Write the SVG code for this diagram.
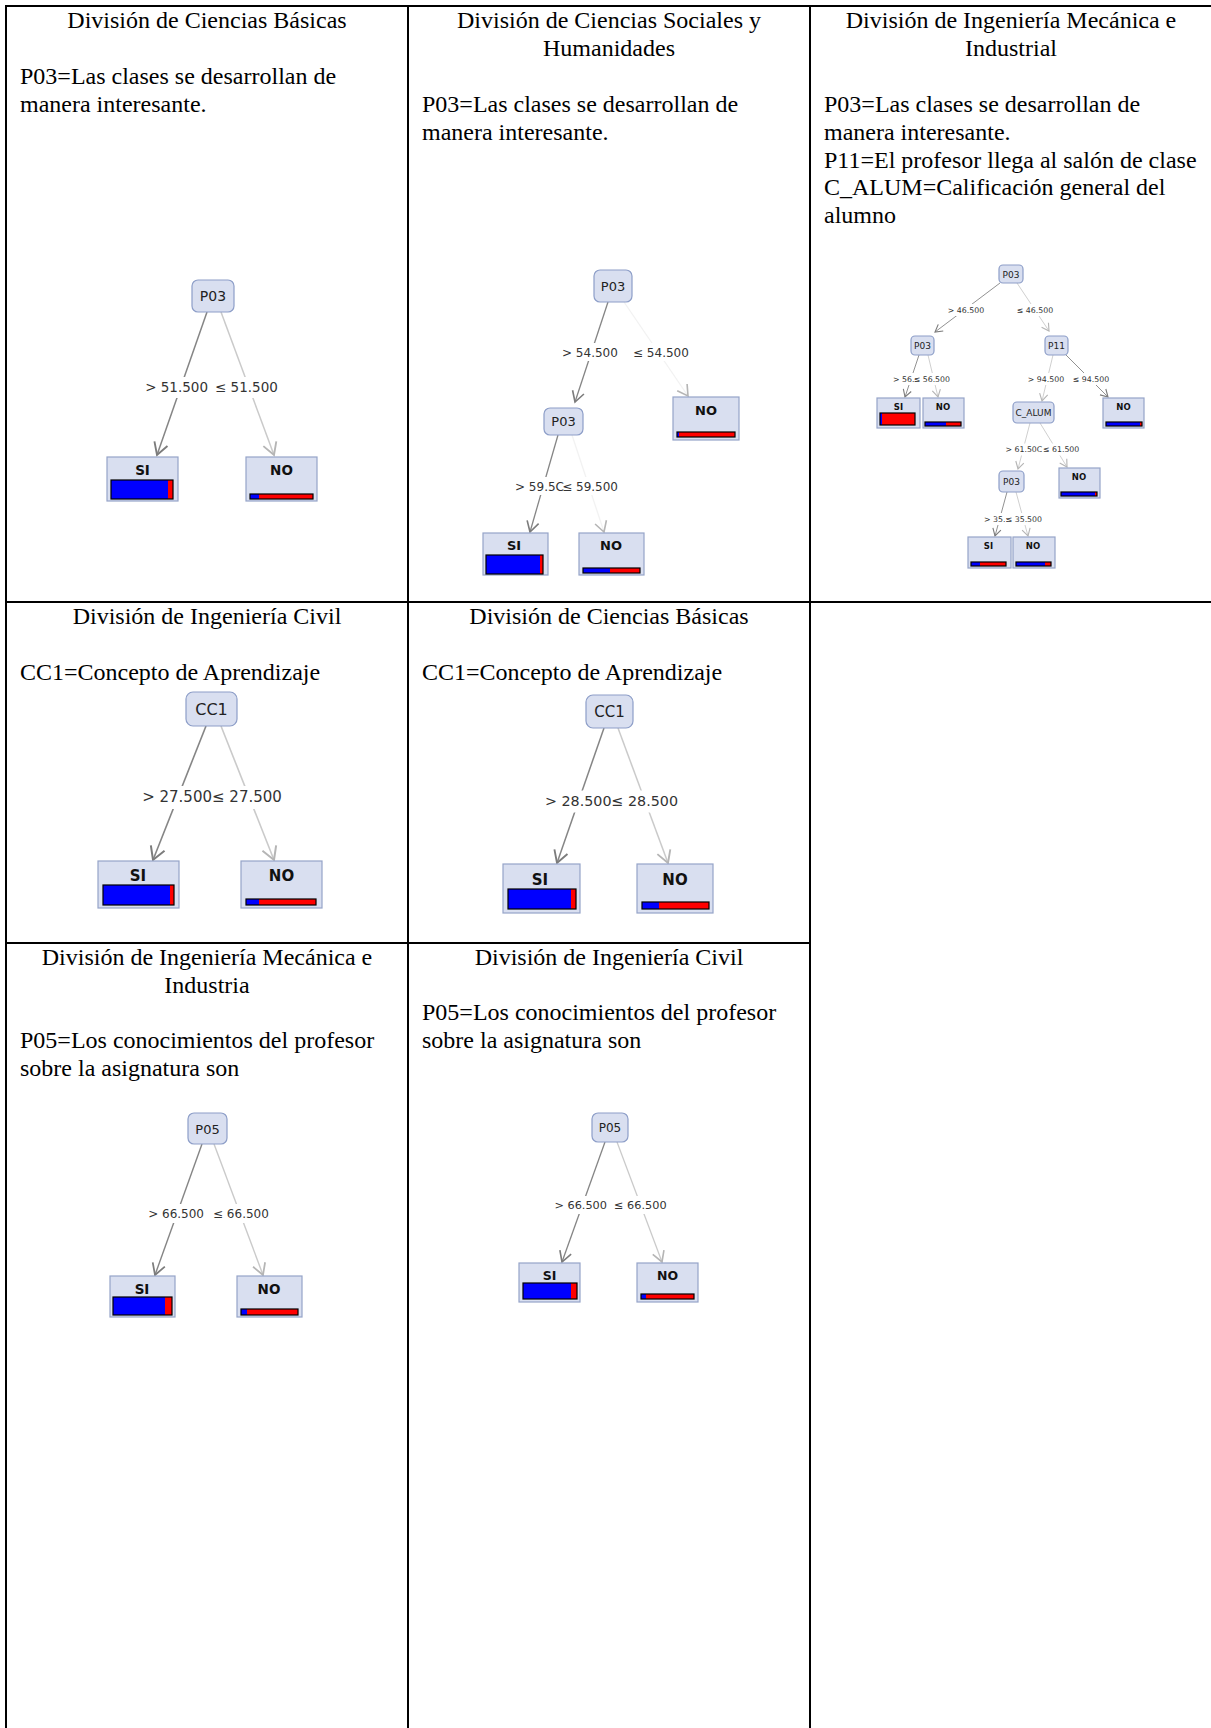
<svg xmlns="http://www.w3.org/2000/svg" width="1211" height="1728" viewBox="0 0 1211 1728">
  <style>
    .grid { stroke: #000; stroke-width: 2; fill: none; }
    .tt { font-family: "Liberation Serif", "Times New Roman", serif; font-size: 24px; fill: #000; }
    .mid { text-anchor: middle; }
    .inn { fill: #d9dff0; stroke: #8d9ec8; stroke-width: 1.2; }
    .leaf { fill: #d9dff0; stroke: #95a4c8; stroke-width: 1.2; }
    .nl { font-family: "DejaVu Sans", Verdana, sans-serif; fill: #222; text-anchor: middle; }
    .ll { font-family: "DejaVu Sans", Verdana, sans-serif; font-weight: bold; fill: #111; text-anchor: middle; }
    .b { fill: #0000ff; }
    .r { fill: #ff0000; }
    .fr { fill: none; stroke: #000; stroke-width: 1.2; }
    .ed { stroke: #858585; fill: none; marker-end: url(#ahD); }
    .el { stroke: #cacaca; fill: none; marker-end: url(#ahL); }
    .ef { stroke: #f2f2f2; fill: none; marker-end: url(#ahL); }
    .lbg { fill: #fff; }
    .lb { font-family: "DejaVu Sans", Verdana, sans-serif; fill: #333; }
    .end { text-anchor: end; }
  </style>
  <defs>
    <!-- open chevron arrowheads, sized in stroke widths -->
    <marker id="ahD" markerUnits="strokeWidth" orient="auto" overflow="visible" refX="0" refY="0" markerWidth="1" markerHeight="1">
      <path d="M-8,-4.6 L0,0 L-8,4.6" fill="none" stroke="#7c7c7c" stroke-width="1.25" stroke-linejoin="miter"/>
    </marker>
    <marker id="ahL" markerUnits="strokeWidth" orient="auto" overflow="visible" refX="0" refY="0" markerWidth="1" markerHeight="1">
      <path d="M-8,-4.6 L0,0 L-8,4.6" fill="none" stroke="#b5b5b5" stroke-width="1.25" stroke-linejoin="miter"/>
    </marker>
  </defs>

  <rect x="0" y="0" width="1211" height="1728" fill="#fff"/>

  <!-- table rules -->
  <g id="table">
    <line class="grid" x1="5" y1="6" x2="1211" y2="6"/>
    <line class="grid" x1="6" y1="5" x2="6" y2="1728"/>
    <line class="grid" x1="408" y1="5" x2="408" y2="1728"/>
    <line class="grid" x1="810" y1="5" x2="810" y2="1728"/>
    <line class="grid" x1="5" y1="602" x2="1211" y2="602"/>
    <line class="grid" x1="5" y1="943" x2="811" y2="943"/>
  </g>

  <!-- cell captions -->
  <g id="captions" class="tt">
    <text class="mid" x="207" y="28">División de Ciencias Básicas</text>
    <text x="20" y="84">P03=Las clases se desarrollan de</text>
    <text x="20" y="112">manera interesante.</text>

    <text class="mid" x="609" y="28">División de Ciencias Sociales y</text>
    <text class="mid" x="609" y="56">Humanidades</text>
    <text x="422" y="112">P03=Las clases se desarrollan de</text>
    <text x="422" y="140">manera interesante.</text>

    <text class="mid" x="1011" y="28">División de Ingeniería Mecánica e</text>
    <text class="mid" x="1011" y="56">Industrial</text>
    <text x="824" y="112">P03=Las clases se desarrollan de</text>
    <text x="824" y="140">manera interesante.</text>
    <text x="824" y="167.5">P11=El profesor llega al salón de clase</text>
    <text x="824" y="195">C_ALUM=Calificación general del</text>
    <text x="824" y="222.5">alumno</text>

    <text class="mid" x="207" y="624">División de Ingeniería Civil</text>
    <text x="20" y="679.5">CC1=Concepto de Aprendizaje</text>
    <text class="mid" x="609" y="624">División de Ciencias Básicas</text>
    <text x="422" y="679.5">CC1=Concepto de Aprendizaje</text>

    <text class="mid" x="207" y="965">División de Ingeniería Mecánica e</text>
    <text class="mid" x="207" y="992.5">Industria</text>
    <text x="20" y="1048">P05=Los conocimientos del profesor</text>
    <text x="20" y="1075.5">sobre la asignatura son</text>
    <text class="mid" x="609" y="965">División de Ingeniería Civil</text>
    <text x="422" y="1020">P05=Los conocimientos del profesor</text>
    <text x="422" y="1047.5">sobre la asignatura son</text>
  </g>

  <!-- connectors with their split labels (labels sit on white plates) -->
  <g id="connectors">
    <!-- tree 1 -->
    <path class="ed" stroke-width="1.5" d="M207,312 L157,455"/>
    <path class="el" stroke-width="1.5" d="M221,312 L274,455"/>
    <rect class="lbg" x="144" y="377" width="136" height="21"/>
    <g font-size="13.5">
      <text class="lb end" x="208" y="392">&gt; 51.500</text>
      <text class="lb" x="215" y="392">≤ 51.500</text>
    </g>
    <!-- tree 2 -->
    <path class="ed" stroke-width="1.3" d="M608,302 L575,402"/>
    <path class="ef" stroke-width="1.3" d="M624,302 L688,396"/>
    <path class="ed" stroke-width="1.3" d="M558,435 L530,532"/>
    <path class="ef" stroke-width="1.3" d="M572,435 L604,532"/>
    <rect class="lbg" x="561" y="343" width="129" height="18"/>
    <rect class="lbg" x="514" y="477" width="105" height="18"/>
    <g font-size="12">
      <text class="lb" x="562" y="356.5">&gt; 54.500</text>
      <text class="lb" x="633" y="356.5">≤ 54.500</text>
      <text class="lb" x="515" y="490.5">&gt; 59.5C</text>
      <text class="lb end" x="618" y="490.5">≤ 59.500</text>
    </g>
    <!-- tree 3 -->
    <path class="ed" stroke-width="0.9" d="M1000,283 L935,332"/>
    <path class="el" stroke-width="0.9" d="M1017,283 L1049,331"/>
    <path class="ed" stroke-width="0.9" d="M919,355 L905,397"/>
    <path class="el" stroke-width="0.9" d="M928,355 L938,397"/>
    <path class="el" stroke-width="0.9" d="M1053,355 L1042,401"/>
    <path class="ed" stroke-width="0.9" d="M1066,355 L1108,397"/>
    <path class="el" stroke-width="0.9" d="M1030,423 L1018,469"/>
    <path class="el" stroke-width="0.9" d="M1040,423 L1067,467"/>
    <path class="ed" stroke-width="0.9" d="M1007,492 L995,536"/>
    <path class="el" stroke-width="0.9" d="M1016,492 L1028,536"/>
    <rect class="lbg" x="947" y="304" width="38" height="12"/>
    <rect class="lbg" x="1016" y="304" width="38" height="12"/>
    <rect class="lbg" x="892" y="373" width="59" height="12"/>
    <rect class="lbg" x="1027" y="373" width="83" height="12"/>
    <rect class="lbg" x="1005" y="443.5" width="75" height="12"/>
    <rect class="lbg" x="983" y="513" width="60" height="12"/>
    <g font-size="7.8">
      <text class="lb mid" x="966" y="312.5">&gt; 46.500</text>
      <text class="lb mid" x="1035" y="312.5">≤ 46.500</text>
      <text class="lb" x="893" y="381.5">&gt; 56.:</text>
      <text class="lb end" x="950" y="381.5">≤ 56.500</text>
      <text class="lb mid" x="1046" y="381.5">&gt; 94.500</text>
      <text class="lb mid" x="1091" y="381.5">≤ 94.500</text>
      <text class="lb" x="1005.5" y="452">&gt; 61.50C</text>
      <text class="lb" x="1043" y="452">≤ 61.500</text>
      <text class="lb" x="984" y="521.5">&gt; 35.:</text>
      <text class="lb end" x="1042" y="521.5">≤ 35.500</text>
    </g>
    <!-- tree 4 -->
    <path class="ed" stroke-width="1.6" d="M206,726 L153,860"/>
    <path class="el" stroke-width="1.6" d="M221,726 L274,860"/>
    <rect class="lbg" x="141" y="786" width="142" height="23"/>
    <g font-size="15">
      <text class="lb end" x="212" y="802">&gt; 27.500</text>
      <text class="lb" x="212" y="802">≤ 27.500</text>
    </g>
    <!-- tree 5 -->
    <path class="ed" stroke-width="1.5" d="M604,728 L557,863"/>
    <path class="el" stroke-width="1.5" d="M618,728 L668,863"/>
    <rect class="lbg" x="544" y="790.5" width="135" height="22"/>
    <g font-size="14.3">
      <text class="lb end" x="611.5" y="806">&gt; 28.500</text>
      <text class="lb" x="611.5" y="806">≤ 28.500</text>
    </g>
    <!-- tree 6 -->
    <path class="ed" stroke-width="1.4" d="M202,1144 L155,1275"/>
    <path class="el" stroke-width="1.4" d="M214,1144 L263,1275"/>
    <rect class="lbg" x="147" y="1204" width="123" height="19"/>
    <g font-size="12">
      <text class="lb end" x="204" y="1218">&gt; 66.500</text>
      <text class="lb" x="213" y="1218">≤ 66.500</text>
    </g>
    <!-- tree 7 -->
    <path class="ed" stroke-width="1.3" d="M605,1142 L562,1262"/>
    <path class="el" stroke-width="1.3" d="M617,1142 L662,1262"/>
    <rect class="lbg" x="553" y="1196" width="115" height="18"/>
    <g font-size="11.3">
      <text class="lb end" x="607" y="1209">&gt; 66.500</text>
      <text class="lb" x="614" y="1209">≤ 66.500</text>
    </g>
  </g>

  <!-- tree 1: Ciencias Básicas, P03 -->
  <g id="t1-p03" font-size="14">
    <rect class="inn" x="192" y="280" width="42" height="32" rx="6"/>
    <text class="nl" x="213" y="301">P03</text>
  </g>
  <g id="t1-si" font-size="13.5">
    <rect class="leaf" x="107" y="457" width="71" height="44"/>
    <text class="ll" x="142.5" y="475">SI</text>
    <rect class="b" x="111" y="480" width="57" height="19"/>
    <rect class="r" x="168" y="480" width="5" height="19"/>
    <rect class="fr" x="111" y="480" width="62" height="19"/>
  </g>
  <g id="t1-no" font-size="13.5">
    <rect class="leaf" x="246" y="457" width="71" height="44"/>
    <text class="ll" x="281.5" y="475">NO</text>
    <rect class="b" x="250" y="494" width="9" height="5"/>
    <rect class="r" x="259" y="494" width="54" height="5"/>
    <rect class="fr" x="250" y="494" width="63" height="5"/>
  </g>

  <!-- tree 2: Ciencias Sociales y Humanidades -->
  <g id="t2-p03-root" font-size="13">
    <rect class="inn" x="594" y="270" width="38" height="32" rx="6"/>
    <text class="nl" x="613" y="291">P03</text>
  </g>
  <g id="t2-p03" font-size="13">
    <rect class="inn" x="544" y="408" width="39" height="27" rx="6"/>
    <text class="nl" x="563.5" y="426">P03</text>
  </g>
  <g id="t2-no-a" font-size="13">
    <rect class="leaf" x="673" y="397" width="66" height="43"/>
    <text class="ll" x="706" y="415">NO</text>
    <rect class="b" x="677" y="432" width="2" height="5"/>
    <rect class="r" x="679" y="432" width="56" height="5"/>
    <rect class="fr" x="677" y="432" width="58" height="5"/>
  </g>
  <g id="t2-si" font-size="13">
    <rect class="leaf" x="483" y="533" width="65" height="42"/>
    <text class="ll" x="514" y="550">SI</text>
    <rect class="b" x="486" y="555" width="54" height="19"/>
    <rect class="r" x="540" y="555" width="3" height="19"/>
    <rect class="fr" x="486" y="555" width="57" height="19"/>
  </g>
  <g id="t2-no-b" font-size="13">
    <rect class="leaf" x="579" y="533" width="65" height="42"/>
    <text class="ll" x="611" y="550">NO</text>
    <rect class="b" x="583" y="568" width="27" height="5"/>
    <rect class="r" x="610" y="568" width="30" height="5"/>
    <rect class="fr" x="583" y="568" width="57" height="5"/>
  </g>

  <!-- tree 3: Ingeniería Mecánica e Industrial -->
  <g id="t3-p03-root" font-size="9">
    <rect class="inn" x="999" y="265" width="24" height="18" rx="4" stroke-width="0.9"/>
    <text class="nl" x="1011" y="277.5">P03</text>
  </g>
  <g id="t3-p03-left" font-size="9">
    <rect class="inn" x="911" y="336" width="23" height="19" rx="4" stroke-width="0.9"/>
    <text class="nl" x="922.5" y="349">P03</text>
  </g>
  <g id="t3-p11" font-size="9">
    <rect class="inn" x="1045" y="336" width="23" height="19" rx="4" stroke-width="0.9"/>
    <text class="nl" x="1056.5" y="349">P11</text>
  </g>
  <g id="t3-si-a" font-size="8.5">
    <rect class="leaf" x="877" y="398" width="43" height="30" stroke-width="0.9"/>
    <text class="ll" x="898.5" y="410">SI</text>
    <rect class="b" x="880" y="413" width="2" height="12"/>
    <rect class="r" x="882" y="413" width="33" height="12"/>
    <rect class="fr" x="880" y="413" width="35" height="12" stroke-width="0.9"/>
  </g>
  <g id="t3-no-a" font-size="8.5">
    <rect class="leaf" x="923" y="398" width="41" height="30" stroke-width="0.9"/>
    <text class="ll" x="943" y="410">NO</text>
    <rect class="b" x="925" y="422" width="21" height="4"/>
    <rect class="r" x="946" y="422" width="15" height="4"/>
    <rect class="fr" x="925" y="422" width="36" height="4" stroke-width="0.9"/>
  </g>
  <g id="t3-c-alum" font-size="9">
    <rect class="inn" x="1013" y="402" width="41" height="21" rx="4" stroke-width="0.9"/>
    <text class="nl" x="1033.5" y="416">C_ALUM</text>
  </g>
  <g id="t3-no-b" font-size="8.5">
    <rect class="leaf" x="1103" y="398" width="41" height="30" stroke-width="0.9"/>
    <text class="ll" x="1123.5" y="410">NO</text>
    <rect class="b" x="1106" y="422" width="34" height="4"/>
    <rect class="r" x="1140" y="422" width="2" height="4"/>
    <rect class="fr" x="1106" y="422" width="36" height="4" stroke-width="0.9"/>
  </g>
  <g id="t3-p03-low" font-size="9">
    <rect class="inn" x="999" y="471" width="25" height="21" rx="4" stroke-width="0.9"/>
    <text class="nl" x="1011.5" y="485">P03</text>
  </g>
  <g id="t3-no-c" font-size="8.5">
    <rect class="leaf" x="1059" y="468" width="41" height="30" stroke-width="0.9"/>
    <text class="ll" x="1079" y="480">NO</text>
    <rect class="b" x="1061" y="492" width="34" height="4"/>
    <rect class="r" x="1095" y="492" width="2" height="4"/>
    <rect class="fr" x="1061" y="492" width="36" height="4" stroke-width="0.9"/>
  </g>
  <g id="t3-si-b" font-size="8.5">
    <rect class="leaf" x="968" y="537" width="43" height="31" stroke-width="0.9"/>
    <text class="ll" x="988.5" y="549">SI</text>
    <rect class="b" x="971" y="562" width="9" height="4"/>
    <rect class="r" x="980" y="562" width="26" height="4"/>
    <rect class="fr" x="971" y="562" width="35" height="4" stroke-width="0.9"/>
  </g>
  <g id="t3-no-d" font-size="8.5">
    <rect class="leaf" x="1013" y="537" width="42" height="31" stroke-width="0.9"/>
    <text class="ll" x="1033" y="549">NO</text>
    <rect class="b" x="1016" y="562" width="29" height="4"/>
    <rect class="r" x="1045" y="562" width="6" height="4"/>
    <rect class="fr" x="1016" y="562" width="35" height="4" stroke-width="0.9"/>
  </g>

  <!-- tree 4: Ingeniería Civil, CC1 -->
  <g id="t4-cc1" font-size="16">
    <rect class="inn" x="186" y="692" width="51" height="34" rx="7"/>
    <text class="nl" x="211.5" y="715">CC1</text>
  </g>
  <g id="t4-si" font-size="15">
    <rect class="leaf" x="98" y="861" width="81" height="47"/>
    <text class="ll" x="138" y="881">SI</text>
    <rect class="b" x="103" y="885" width="67" height="20"/>
    <rect class="r" x="170" y="885" width="4" height="20"/>
    <rect class="fr" x="103" y="885" width="71" height="20"/>
  </g>
  <g id="t4-no" font-size="15">
    <rect class="leaf" x="241" y="861" width="81" height="47"/>
    <text class="ll" x="281.5" y="881">NO</text>
    <rect class="b" x="246" y="899" width="13" height="6"/>
    <rect class="r" x="259" y="899" width="57" height="6"/>
    <rect class="fr" x="246" y="899" width="70" height="6"/>
  </g>

  <!-- tree 5: Ciencias Básicas, CC1 -->
  <g id="t5-cc1" font-size="15">
    <rect class="inn" x="586" y="695" width="47" height="33" rx="7"/>
    <text class="nl" x="609.5" y="717">CC1</text>
  </g>
  <g id="t5-si" font-size="15">
    <rect class="leaf" x="503" y="864" width="77" height="49"/>
    <text class="ll" x="540" y="885">SI</text>
    <rect class="b" x="508" y="889" width="63" height="20"/>
    <rect class="r" x="571" y="889" width="5" height="20"/>
    <rect class="fr" x="508" y="889" width="68" height="20"/>
  </g>
  <g id="t5-no" font-size="15">
    <rect class="leaf" x="637" y="864" width="76" height="49"/>
    <text class="ll" x="675" y="885">NO</text>
    <rect class="b" x="642" y="902" width="17" height="7"/>
    <rect class="r" x="659" y="902" width="50" height="7"/>
    <rect class="fr" x="642" y="902" width="67" height="7"/>
  </g>

  <!-- tree 6: Ingeniería Mecánica e Industria, P05 -->
  <g id="t6-p05" font-size="13">
    <rect class="inn" x="188" y="1113" width="39" height="31" rx="6"/>
    <text class="nl" x="207.5" y="1134">P05</text>
  </g>
  <g id="t6-si" font-size="13.5">
    <rect class="leaf" x="110" y="1276" width="65" height="41"/>
    <text class="ll" x="142" y="1294">SI</text>
    <rect class="b" x="113" y="1297" width="52" height="18"/>
    <rect class="r" x="165" y="1297" width="7" height="18"/>
    <rect class="fr" x="113" y="1297" width="59" height="18"/>
  </g>
  <g id="t6-no" font-size="13.5">
    <rect class="leaf" x="237" y="1276" width="65" height="41"/>
    <text class="ll" x="269" y="1294">NO</text>
    <rect class="b" x="241" y="1309" width="6" height="6"/>
    <rect class="r" x="247" y="1309" width="51" height="6"/>
    <rect class="fr" x="241" y="1309" width="57" height="6"/>
  </g>

  <!-- tree 7: Ingeniería Civil, P05 -->
  <g id="t7-p05" font-size="12">
    <rect class="inn" x="592" y="1113" width="36" height="29" rx="6"/>
    <text class="nl" x="610" y="1132">P05</text>
  </g>
  <g id="t7-si" font-size="12.5">
    <rect class="leaf" x="519" y="1263" width="61" height="39"/>
    <text class="ll" x="549.5" y="1280">SI</text>
    <rect class="b" x="523" y="1283" width="48" height="16"/>
    <rect class="r" x="571" y="1283" width="6" height="16"/>
    <rect class="fr" x="523" y="1283" width="54" height="16"/>
  </g>
  <g id="t7-no" font-size="12.5">
    <rect class="leaf" x="637" y="1263" width="61" height="39"/>
    <text class="ll" x="667.5" y="1280">NO</text>
    <rect class="b" x="641" y="1294" width="5" height="5"/>
    <rect class="r" x="646" y="1294" width="48" height="5"/>
    <rect class="fr" x="641" y="1294" width="53" height="5"/>
  </g>
</svg>
